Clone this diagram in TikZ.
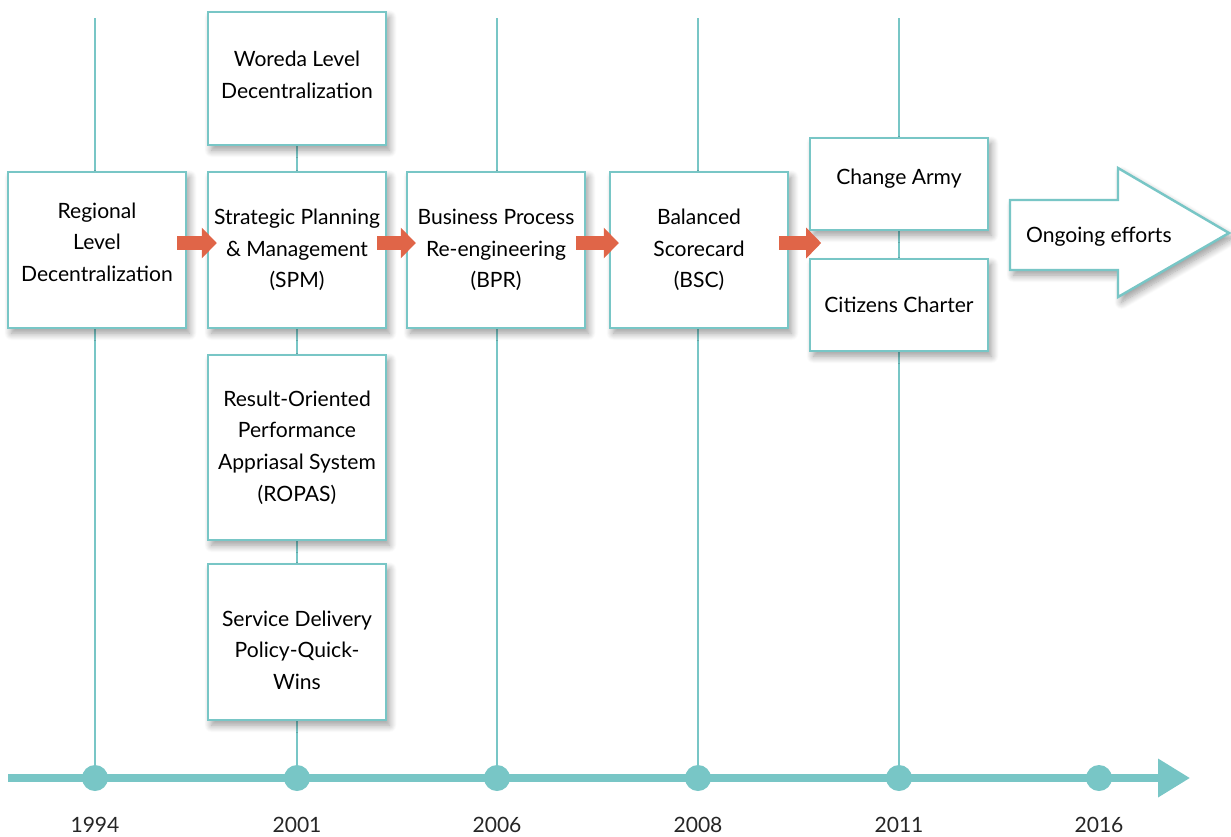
\documentclass[tikz,border=0pt]{standalone}
\usepackage{fontspec}
\setmainfont{Lato}
\usepackage{xcolor}
\usetikzlibrary{shapes,arrows.meta,positioning,shadows.blur,calc}

\definecolor{teal_line}{HTML}{78C6C6}
\definecolor{flow_red}{HTML}{E06548}

\begin{document}
\begin{tikzpicture}[
    x=0.02cm, y=-0.02cm,
    font=\fontsize{12}{18}\selectfont,
    soft/.style={blur shadow={shadow xshift=2pt, shadow yshift=-3pt, shadow blur radius=4pt, shadow blur steps=10, shadow opacity=40}},
    phase/.style={rectangle, draw=teal_line, line width=1.4pt, fill=white, align=center, minimum width=3.56cm, soft},
    stem/.style={draw=teal_line, line width=1pt},
    dot/.style={circle, fill=teal_line, minimum size=0.52cm, inner sep=0pt},
    year/.style={text=black!85},
    flow/.style={draw=flow_red, line width=0.28cm, -{Triangle[length=0.3cm, width=0.6cm]}},
    timeline/.style={draw=teal_line, line width=4pt, -{Triangle[length=0.64cm, width=0.74cm]}}
]
\useasboundingbox (0,0) rectangle (1231,836);

% Time axis
\coordinate (axis_start) at (8,778);
\coordinate (axis_end) at (1190,778);
\draw[timeline] (axis_start) -- (axis_end);

\foreach \xpos/\yr in {95/1994, 297/2001, 497/2006, 698/2008, 899/2011, 1099/2016} {
    \node[dot] (y\yr) at (\xpos,778) {};
    \node[year] (label\yr) at (\xpos,825) {\yr};
}

% Stems up from the years
\foreach \xpos/\yr in {95/1994, 297/2001, 497/2006, 698/2008, 899/2011} {
    \coordinate (top\yr) at (\xpos,18);
    \draw[stem] (top\yr) -- (y\yr);
}

% Reform phases
\node[phase, minimum height=3.12cm, text depth=9pt] (regional) at (97,250) {Regional\\Level\\Decentralization};
\node[phase, minimum height=2.66cm, text depth=4.5pt] (woreda) at (297,78.5) {Woreda Level\\Decentralization};
\node[phase, minimum height=3.12cm] (spm) at (297,250) {Strategic Planning\\\& Management\\(SPM)};
\node[phase, minimum height=3.7cm] (ropas) at (297,447.5) {Result-Oriented\\Performance\\Appriasal System\\(ROPAS)};
\node[phase, minimum height=3.12cm, text height=54pt, text depth=0pt] (service) at (297,642) {Service Delivery\\Policy-Quick-\\Wins};
\node[phase, minimum height=3.12cm] (bpr) at (496,250) {Business Process\\Re-engineering\\(BPR)};
\node[phase, minimum height=3.12cm] (bsc) at (699,250) {Balanced\\Scorecard\\(BSC)};
\node[phase, minimum height=1.84cm, text depth=8pt] (army) at (899,184) {Change Army};
\node[phase, minimum height=1.84cm] (charter) at (899,305) {Citizens Charter};

% Ongoing efforts
\filldraw[draw=teal_line, line width=1.4pt, fill=white, soft]
    (1010,200) -- (1118,200) -- (1118,168) -- (1229,233) -- (1118,297) -- (1118,270) -- (1010,270) -- cycle;
\node[anchor=west] (ongoing) at (1020,237) {Ongoing efforts};

% Arrows
\draw[flow] ([shift={(-10,-7)}]regional.east) -- ([shift={(10,-7)}]spm.west);
\draw[flow] ([shift={(-10,-7)}]spm.east) -- ([shift={(10,-7)}]bpr.west);
\draw[flow] ([shift={(-10,-7)}]bpr.east) -- ([shift={(10,-7)}]bsc.west);
\draw[flow] ([shift={(-10,-7)}]bsc.east) -- ([shift={(32,-7)}]bsc.east);

\end{tikzpicture}
\end{document}
